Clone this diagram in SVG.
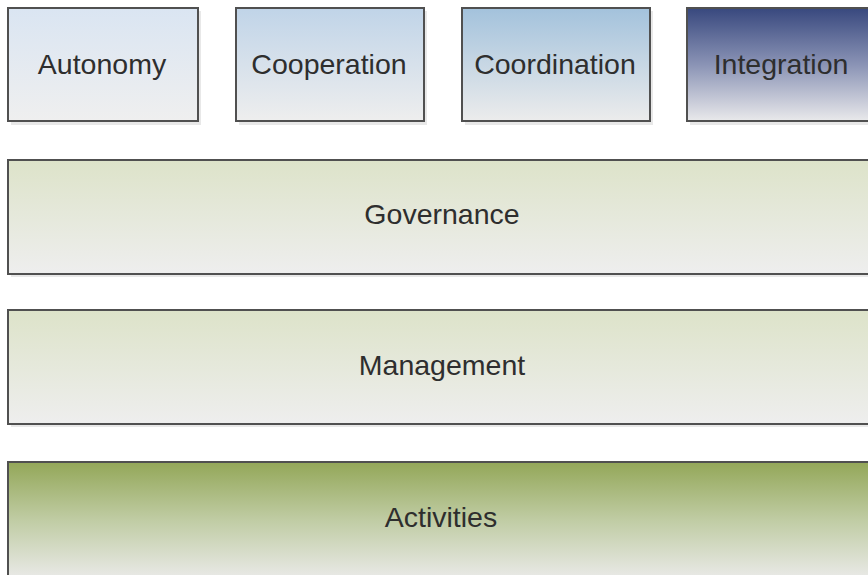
<svg xmlns="http://www.w3.org/2000/svg" width="868" height="575" viewBox="0 0 868 575">
<style>
.box{stroke:#505050;stroke-width:2}
.sh{fill:#d9d9d9;opacity:0.6}
text{font-family:"Liberation Sans",Arial,sans-serif;font-size:28.5px;fill:#2e2e2e;text-anchor:middle}
</style>
<defs>
<linearGradient id="gA" x1="0" y1="0" x2="0" y2="1"><stop offset="0" stop-color="#dae5f2"/><stop offset="1" stop-color="#efefef"/></linearGradient>
<linearGradient id="gB" x1="0" y1="0" x2="0" y2="1"><stop offset="0" stop-color="#c0d4e8"/><stop offset="1" stop-color="#eeeeee"/></linearGradient>
<linearGradient id="gC" x1="0" y1="0" x2="0" y2="1"><stop offset="0" stop-color="#a3c2dc"/><stop offset="1" stop-color="#ececec"/></linearGradient>
<linearGradient id="gD" x1="0" y1="0" x2="0" y2="1"><stop offset="0" stop-color="#38487e"/><stop offset="0.5" stop-color="#8a93b5"/><stop offset="1" stop-color="#e9e9eb"/></linearGradient>
<linearGradient id="gE" x1="0" y1="0" x2="0" y2="1"><stop offset="0" stop-color="#dde3c9"/><stop offset="1" stop-color="#eeeeee"/></linearGradient>
<linearGradient id="gF" x1="0" y1="0" x2="0" y2="1"><stop offset="0" stop-color="#93a758"/><stop offset="0.5" stop-color="#c0cca4"/><stop offset="1" stop-color="#e9e9e7"/></linearGradient>
</defs>
<g id="autonomy"><rect class="sh" x="11" y="11" width="190" height="114"/><rect class="box" x="8" y="8" width="190" height="113" fill="url(#gA)"/><text x="102" y="74">Autonomy</text></g>
<g id="cooperation"><rect class="sh" x="239" y="11" width="188" height="114"/><rect class="box" x="236" y="8" width="188" height="113" fill="url(#gB)"/><text x="329" y="74">Cooperation</text></g>
<g id="coordination"><rect class="sh" x="465" y="11" width="188" height="114"/><rect class="box" x="462" y="8" width="188" height="113" fill="url(#gC)"/><text x="555" y="74">Coordination</text></g>
<g id="integration"><rect class="sh" x="690" y="11" width="188" height="114"/><rect class="box" x="687" y="8" width="188" height="113" fill="url(#gD)"/><text x="781" y="74">Integration</text></g>
<g id="governance"><rect class="sh" x="11" y="163" width="870" height="114"/><rect class="box" x="8" y="160" width="870" height="114" fill="url(#gE)"/><text x="442" y="224">Governance</text></g>
<g id="management"><rect class="sh" x="11" y="313" width="870" height="114"/><rect class="box" x="8" y="310" width="870" height="114" fill="url(#gE)"/><text x="442" y="375">Management</text></g>
<g id="activities"><rect class="box" x="8" y="462" width="870" height="116" fill="url(#gF)"/><text x="441" y="527">Activities</text></g>
<g id="connectors"></g>
</svg>
